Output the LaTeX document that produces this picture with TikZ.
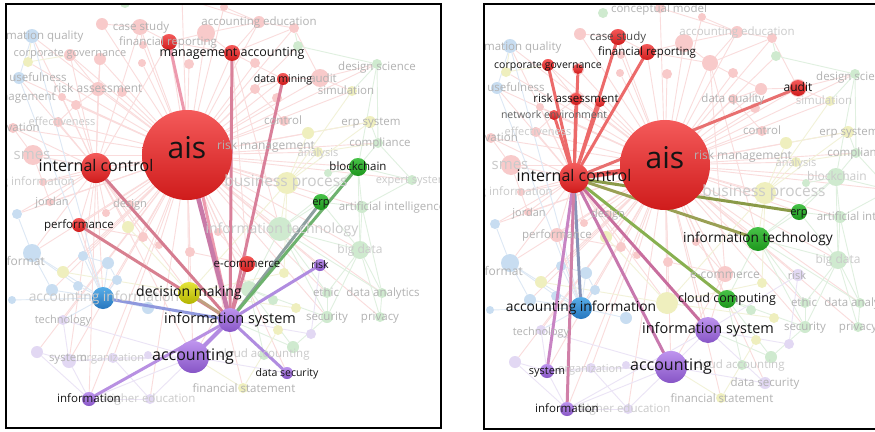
\documentclass[tikz,border=0pt]{standalone}
\usepackage{fontspec}
\setmainfont{Open Sans}
\newcommand\fsz[1]{\fontsize{#1}{#1}\selectfont}
\newcommand\hx[1]{\definecolor{x#1}{HTML}{#1}}
\hx{ED9AAE}\hx{D9809A}\hx{D57C90}\hx{D88090}\hx{C0A080}\hx{8F98DD}\hx{8EA0A0}
\hx{6EB26E}\hx{B08CE0}\hx{B890E2}\hx{B38BE2}\hx{C87AA8}\hx{EC6A6A}\hx{E87070}
\hx{8A9A48}\hx{9AA055}\hx{88B050}\hx{C86E9E}\hx{C878AE}\hx{8894B8}\hx{C884C4}
\hx{D080A8}\hx{E85858}
\definecolor{cfR}{HTML}{F8CACA}
\definecolor{cfG}{HTML}{CFEACF}
\definecolor{cfB}{HTML}{C8DDF1}
\definecolor{cfP}{HTML}{E2D8F3}
\definecolor{cfY}{HTML}{EFEFBE}
\definecolor{ceR}{HTML}{FADCDC}
\definecolor{ceG}{HTML}{E0F0E0}
\definecolor{ceB}{HTML}{DDE8F5}
\definecolor{ceP}{HTML}{EBE4F6}
\definecolor{ceY}{HTML}{F2F2D8}
\definecolor{chR1}{HTML}{F45A5A}
\definecolor{chR2}{HTML}{CF1B1B}
\definecolor{chG1}{HTML}{48C248}
\definecolor{chG2}{HTML}{1C961C}
\definecolor{chB1}{HTML}{58ADE8}
\definecolor{chB2}{HTML}{2676BE}
\definecolor{chP1}{HTML}{BE94EE}
\definecolor{chP2}{HTML}{8755C6}
\definecolor{chY1}{HTML}{E4E43A}
\definecolor{chY2}{HTML}{B4B400}
\definecolor{cflab}{HTML}{B2B2B2}
\definecolor{cflab2}{HTML}{CACACA}
\tikzset{
  inv/.style={circle,inner sep=0pt,draw=none},
  fR/.style={fill=cfR}, fG/.style={fill=cfG}, fB/.style={fill=cfB},
  fP/.style={fill=cfP}, fY/.style={fill=cfY},
  eR/.style={draw=ceR,line width=0.9pt}, eG/.style={draw=ceG,line width=0.9pt},
  eB/.style={draw=ceB,line width=0.9pt}, eP/.style={draw=ceP,line width=0.9pt},
  eY/.style={draw=ceY,line width=0.9pt},
  hR/.style={top color=chR1,bottom color=chR2},
  hG/.style={top color=chG1,bottom color=chG2},
  hB/.style={top color=chB1,bottom color=chB2},
  hP/.style={top color=chP1,bottom color=chP2},
  hY/.style={top color=chY1,bottom color=chY2},
  hE/.style={line width=3pt,line cap=round},
  flab/.style={text=cflab,inner sep=0pt,text height=1.5ex,text depth=.25ex},
  flab2/.style={flab,text=cflab2},
  hlab/.style={text=black!92,inner sep=0pt,text height=1.5ex,text depth=.25ex},
  frame/.style={draw=black,line width=2pt},
}
\newcount\flc
\newcommand\FL[4][]{\global\advance\flc by 1 \node[flab,font=\fsz{#3},#1] (fl\the\flc) at (#2) {#4};}
\newcommand\HL[4][]{\node[hlab,font=\fsz{#3},#1] (hl-#2) at (#2) {#4};}
\newcommand\HN[3]{\path[h#3] (#1) circle[radius=#2pt];}
\newcommand\allnodes{%
\VN{ais}{187}{155}{45}{R}\VN{ic}{96}{168}{15}{R}\VN{ma}{232}{53}{8}{R}
\VN{fr}{169}{42}{8}{R}\VN{dm}{283}{79}{6}{R}\VN{perf}{79}{225}{7}{R}
\VN{ec}{247}{264}{8}{R}\VN{cs}{140}{27}{8}{R}\VN{cg}{70}{55}{6}{R}
\VN{xa}{100}{59}{6}{R}\VN{ra}{98}{89}{7}{R}\VN{xb}{122}{92}{5}{R}
\VN{ne}{76}{105}{5}{R}\VN{au}{320}{78}{9}{R}\VN{jor}{50}{202}{4}{R}
\VN{smes}{33}{155}{10}{R}\VN{inno}{13}{128}{5}{R}\VN{eff}{58}{122}{5}{R}
\VN{mg}{62}{97}{4}{R}\VN{ae}{259}{22}{6}{R}\VN{cmod}{182}{-2}{5}{R}
\VN{des}{130}{204}{4}{R}\VN{dq}{255}{89}{5}{R}\VN{ctrl}{284}{121}{5}{R}
\VN{r1}{102}{24}{6}{R}\VN{r2}{206}{33}{9}{R}\VN{r3}{143}{45}{4}{R}
\VN{r4}{142}{63}{4}{R}\VN{r5}{189}{64}{5}{R}\VN{r6}{294}{28}{5}{R}
\VN{r7}{255}{63}{5}{R}\VN{r8}{277}{98}{5}{R}\VN{r9}{224}{7}{4}{R}
\VN{r10}{106}{213}{4}{R}\VN{r11}{43}{182}{4}{R}\VN{r12}{143}{237}{5}{R}
\VN{r13}{190}{252}{5}{R}\VN{r14}{218}{232}{4}{R}\VN{r15}{159}{245}{4}{R}
\VN{dmk}{189}{293}{11}{Y}\VN{bp}{287}{183}{11}{Y}\VN{erps}{370}{122}{6}{Y}
\VN{sim}{352}{91}{5}{Y}\VN{y1}{308}{133}{6}{Y}\VN{ana}{318}{152}{5}{Y}
\VN{fs}{243}{388}{5}{Y}\VN{y2}{28}{62}{5}{Y}\VN{y3}{63}{272}{6}{Y}
\VN{y4}{128}{227}{6}{Y}\VN{y5}{296}{308}{5}{Y}\VN{y6}{284}{273}{5}{Y}
\VN{y7}{278}{330}{5}{Y}
\VN{bc}{358}{167}{9}{G}\VN{erp}{321}{202}{8}{G}\VN{it}{280}{229}{12}{G}
\VN{cc}{249}{289}{8}{G}\VN{ds}{377}{64}{5}{G}\VN{comp}{378}{143}{5}{G}
\VN{ai}{362}{207}{6}{G}\VN{bd}{360}{250}{9}{G}\VN{eth}{327}{293}{5}{G}
\VN{da}{382}{293}{5}{G}\VN{sec}{327}{317}{6}{G}\VN{priv}{380}{317}{5}{G}
\VN{ca}{264}{355}{5}{G}\VN{g1}{293}{347}{6}{G}\VN{exs}{412}{180}{5}{G}
\VN{g2}{298}{46}{5}{G}\VN{g3}{125}{3}{5}{G}\VN{g4}{273}{300}{5}{G}
\VN{g5}{328}{173}{4}{G}
\VN{ab}{103}{298}{11}{B}\VN{iq}{32}{36}{7}{B}\VN{use}{19}{78}{6}{B}
\VN{fmt}{32}{253}{9}{B}\VN{b1}{83}{256}{5}{B}\VN{b2}{108}{263}{6}{B}
\VN{b3}{117}{280}{5}{B}\VN{b4}{78}{286}{5}{B}\VN{b5}{52}{290}{6}{B}
\VN{b6}{148}{308}{6}{B}\VN{b7}{17}{214}{5}{B}\VN{b8}{12}{300}{4}{B}
\VN{is}{230}{320}{12}{P}\VN{acc}{193}{357}{16}{P}\VN{risk}{320}{265}{6}{P}
\VN{dsec}{287}{373}{6}{P}\VN{info}{89}{399}{7}{P}\VN{sys}{69}{361}{7}{P}
\VN{tech}{63}{320}{5}{P}\VN{org}{113}{358}{5}{P}\VN{he}{150}{399}{5}{P}
\VN{p1}{37}{352}{6}{P}\VN{p2}{148}{355}{4}{P}\VN{p3}{311}{334}{5}{P}
}
\newcommand\declnodes{\def\VN##1##2##3##4##5{\node[inv,minimum size={2*##4pt}] (##1) at (##2,##3) {};}\allnodes}
\newcommand\drawnodes{\def\VN##1##2##3##4##5{\fill[f##5] (##1) circle[radius=##4pt];}\allnodes}
\newcommand\faintedges{%
\foreach \nn in {ic,ma,fr,dm,perf,ec,cs,cg,xa,ra,xb,ne,au,jor,smes,inno,eff,mg,ae,cmod,des,dq,ctrl,r1,r2,r3,r4,r5,r6,r7,r8,r9,r10,r11,r12,r13,r14,r15,bp,dmk,erps,sim,y1,ana,it,erp,bc,comp,ds,ai,bd,cc,exs,g2,acc,is,ab,fmt,iq,use,b1,b5,tech,sys,info,fs,y3,y4,he,org,p1,risk,dsec,eth,da,sec,priv,y2,b7}{\draw[eR] (ais) -- (\nn);}
\foreach \nn in {perf,jor,smes,inno,ra,cg,xa,ne,eff,des,dmk,ab,mg,r11,r10,y4,b7,fmt,acc,is,info,sys,cs,fr,r12,iq,use}{\draw[eR] (ic) -- (\nn);}
\foreach \ua/\ub in {ma/dm,ma/fr,ma/ae,ma/r2,ma/r6,ma/ec,ma/it,cs/r1,cs/r3,cs/fr,fr/r2,r2/ae,ae/r6,ae/cmod,r9/ae,cg/ra,ra/ne,xa/ra,ne/eff,smes/inno,smes/jor,ec/is,ec/acc,dm/dq,dq/ctrl,au/dm,au/r6,au/ds,au/sim,perf/r12,perf/ab,r13/ec,r14/ec}{\draw[eR] (\ua) -- (\ub);}
\foreach \ua/\ub in {bc/erp,bc/comp,bc/exs,bc/ai,bc/bd,bc/ds,bc/g5,bc/it,erp/ai,erp/it,erp/bd,it/bd,it/cc,it/eth,it/sec,it/da,bd/da,bd/eth,bd/priv,bd/sec,bd/ai,da/priv,eth/sec,comp/ds,comp/erps,ds/sim,ai/exs,cc/sec,cc/g4,cc/ca,cc/g1,g1/sec,g1/is,g2/ds,g2/r6,comp/exs,ai/da}{\draw[eG] (\ua) -- (\ub);}
\foreach \ua/\ub in {bp/erps,bp/sim,bp/y1,bp/ana,bp/dmk,bp/y6,bp/it,dmk/y6,dmk/y5,dmk/y4,dmk/y3,fs/acc,fs/y7,y2/iq,y2/cg,y1/erps,ana/comp}{\draw[eY] (\ua) -- (\ub);}
\foreach \ua/\ub in {ab/fmt,ab/b1,ab/b2,ab/b3,ab/b4,ab/b5,ab/b6,ab/b8,ab/iq,ab/use,ab/tech,fmt/b7,fmt/b4,fmt/b5,iq/use,b1/b2,b2/b3}{\draw[eB] (\ua) -- (\ub);}
\foreach \ua/\ub in {is/acc,is/risk,is/dsec,is/p3,is/info,acc/info,acc/sys,acc/org,acc/dsec,acc/he,acc/tech,acc/p2,sys/org,sys/p1,sys/tech,sys/info,org/he,info/he,info/p1,risk/p3}{\draw[eP] (\ua) -- (\ub);}
}
\begin{document}
\begin{tikzpicture}[x=1pt,y=-1pt]
\useasboundingbox (0,0) rectangle (875,431);
\fill[white] (0,0) rectangle (875,431);
% ================= LEFT PANEL =================
\begin{scope}
\clip (6,4) rectangle (441,428);
\declnodes\faintedges\drawnodes
% highlighted links of "information system"
\draw[hE,draw=xED9AAE] (is) -- (fr);
\draw[hE,draw=xD9809A] (is) -- (ma);
\draw[hE,draw=xD9809A] (is) -- (dm);
\draw[hE,draw=xD9809A] (is) -- (ec);
\draw[hE,draw=xD57C90] (is) -- (ic);
\draw[hE,draw=xD88090] (is) -- (perf);
\draw[hE,draw=xC0A080] (is) -- (dmk);
\draw[hE,draw=x8F98DD] (is) -- (ab);
\draw[hE,draw=x8EA0A0] (is) -- (erp);
\draw[hE,draw=x6EB26E] (is) -- (bc);
\draw[hE,draw=xB08CE0] (is) -- (risk);
\draw[hE,draw=xB08CE0] (is) -- (dsec);
\draw[hE,draw=xB890E2] (is) -- (info);
\draw[hE,draw=xB38BE2,line width=4pt] (is) -- (acc);
\draw[hE,draw=xC87AA8,line width=4.5pt] (is) -- (ais);
% highlighted nodes
\HN{ais}{45}{R}\HN{ic}{15}{R}\HN{ma}{8}{R}\HN{fr}{8}{R}\HN{dm}{6}{R}
\HN{perf}{7}{R}\HN{ec}{8}{R}\HN{dmk}{11}{Y}\HN{ab}{11}{B}\HN{is}{12}{P}
\HN{acc}{16}{P}\HN{info}{7}{P}\HN{dsec}{6}{P}\HN{risk}{6}{P}
\HN{erp}{8}{G}\HN{bc}{9}{G}
% faint labels
\FL{32,36}{11.5}{information quality}
\FL{141,27}{11.5}{case study}
\FL{168,42}{11.5}{financial reporting}
\FL{259,22}{11.5}{accounting education}
\FL{70,53}{11}{corporate governance}
\FL{38,78}{11.5}{usefulness}
\FL{98,89}{12}{risk assessment}
\FL[anchor=east]{56,97}{11.5}{management}
\FL[flab2]{62,122}{11}{effectiveness}
\FL[anchor=east]{40,128}{11.5}{innovation}
\FL[flab2]{32,156}{15}{smes}
\FL[flab2,anchor=east]{75,182}{11.5}{using information}
\FL{52,202}{11}{jordan}
\FL{130,204}{11}{design}
\FL{377,67}{11.5}{design science}
\FL{346,91}{11.5}{simulation}
\FL{323,79}{11.5}{audit}
\FL{283,121}{11.5}{control}
\FL{371,122}{11.5}{erp system}
\FL{380,143}{11.5}{compliance}
\FL{266,146}{12}{risk management}
\FL[flab2]{318,153}{11}{analysis}
\FL[flab2]{286,183}{15.5}{business process}
\FL[flab2]{412,180}{11}{expert system}
\FL{392,207}{11.5}{artificial intelligence}
\FL[flab2]{282,230}{14}{information technology}
\FL[flab2]{360,250}{12}{big data}
\FL{326,293}{11.5}{ethic}
\FL{383,293}{11.5}{data analytics}
\FL{327,317}{11.5}{security}
\FL{380,317}{11.5}{privacy}
\FL[flab2]{264,354}{11.5}{cloud accounting}
\FL{244,389}{11.5}{financial statement}
\FL[flab2]{150,399}{11.5}{higher education}
\FL[flab2]{112,358}{11}{organization}
\FL{68,358}{11.5}{system}
\FL{63,320}{11}{technology}
\FL[anchor=east]{45,262}{12}{format}
\FL[flab2]{104,298}{13.8}{accounting information}
% highlighted labels
\HL{ais}{30}{ais}
\HL{ic}{16}{internal control}
\HL{ma}{12.5}{management accounting}
\HL{dm}{10.5}{data mining}
\HL{perf}{11.5}{performance}
\HL{dmk}{14}{decision making}
\HL{is}{14.5}{information system}
\HL{acc}{16}{accounting}
\HL{ec}{11.5}{e-commerce}
\HL{risk}{10.5}{risk}
\HL{dsec}{10.5}{data security}
\HL{info}{11.5}{information}
\HL{bc}{11.5}{blockchain}
\HL{erp}{11}{erp}
\end{scope}
\draw[frame] (6,4) rectangle (441,428);
% ================= RIGHT PANEL =================
\begin{scope}[shift={(478,10)}]
\clip (6,-6) rectangle (400,419);
\declnodes\faintedges\drawnodes
% highlighted links of "internal control"
\draw[hE,draw=xEC6A6A] (ic) -- (cs);
\draw[hE,draw=xEC6A6A] (ic) -- (fr);
\draw[hE,draw=xEC6A6A] (ic) -- (cg);
\draw[hE,draw=xEC6A6A] (ic) -- (xa);
\draw[hE,draw=xEC6A6A] (ic) -- (ra);
\draw[hE,draw=xEC6A6A] (ic) -- (xb);
\draw[hE,draw=xEC6A6A] (ic) -- (ne);
\draw[hE,draw=xE87070] (ic) -- (au);
\draw[hE,draw=x8A9A48] (ic) -- (erp);
\draw[hE,draw=x9AA055] (ic) -- (it);
\draw[hE,draw=x88B050] (ic) -- (cc);
\draw[hE,draw=xC86E9E] (ic) -- (is);
\draw[hE,draw=xC878AE] (ic) -- (acc);
\draw[hE,draw=x8894B8] (ic) -- (ab);
\draw[hE,draw=xC884C4] (ic) -- (sys);
\draw[hE,draw=xD080A8] (ic) -- (info);
\draw[hE,draw=xE85858,line width=5pt] (ic) -- (ais);
% highlighted nodes
\HN{ais}{45}{R}\HN{ic}{15}{R}\HN{cs}{8}{R}\HN{fr}{8}{R}\HN{cg}{6}{R}
\HN{xa}{5}{R}\HN{ra}{6}{R}\HN{xb}{5}{R}\HN{ne}{5}{R}\HN{au}{8}{R}
\HN{erp}{8}{G}\HN{it}{12}{G}\HN{cc}{9}{G}\HN{is}{13}{P}\HN{acc}{16}{P}
\HN{ab}{11}{B}\HN{sys}{7}{P}\HN{info}{7}{P}
% faint labels
\FL{181,-1}{11.5}{conceptual model}
\FL{32,37}{11.5}{information quality}
\FL{38,78}{11.5}{usefulness}
\FL[anchor=east]{40,128}{11.5}{innovation}
\FL[flab2]{60,122}{11}{effectiveness}
\FL[flab2]{32,156}{15}{smes}
\FL[flab2,anchor=east]{75,182}{11.5}{using information}
\FL{51,203}{11}{jordan}
\FL{130,204}{11}{design}
\FL{79,225}{11.5}{performance}
\FL[anchor=east]{45,262}{12}{format}
\FL{63,322}{11}{technology}
\FL[flab2]{112,359}{11}{organization}
\FL[flab2]{147,399}{11.5}{higher education}
\FL{244,389}{11.5}{financial statement}
\FL{287,373}{11.5}{data security}
\FL[flab2]{261,355}{11.5}{cloud accounting}
\FL{327,317}{11.5}{security}
\FL{380,317}{11.5}{privacy}
\FL{326,293}{11.5}{ethic}
\FL{383,293}{11.5}{data analytics}
\FL{247,265}{12}{e-commerce}
\FL{319,266}{11}{risk}
\FL[flab2]{360,250}{12}{big data}
\FL{392,207}{11.5}{artificial intelligence}
\FL[flab2]{286,183}{15.5}{business process}
\FL[flab2]{359,167}{12}{blockchain}
\FL[flab2]{318,153}{11}{analysis}
\FL{265,146}{12}{risk management}
\FL{380,143}{11.5}{compliance}
\FL{371,122}{11.5}{erp system}
\FL{284,121}{11.5}{control}
\FL[flab2]{346,91}{11.5}{simulation}
\FL{255,89}{11.5}{data quality}
\FL{377,67}{11.5}{design science}
\FL[flab2]{259,22}{11.5}{accounting education}
% highlighted labels
\HL{ais}{30}{ais}
\HL{ic}{16}{internal control}
\HL[text=black!70]{cs}{11.5}{case study}
\HL{fr}{11.5}{financial reporting}
\HL{cg}{10.5}{corporate governance}
\HL{ra}{11.5}{risk assessment}
\HL[text=black!62]{ne}{10.5}{network environment}
\HL{au}{12}{audit}
\HL{erp}{11}{erp}
\HL{it}{13.7}{information technology}
\HL{cc}{12.5}{cloud computing}
\HL{is}{14.5}{information system}
\HL{acc}{16}{accounting}
\HL{ab}{13.8}{accounting information}
\HL{sys}{11}{system}
\HL{info}{11.5}{information}
\end{scope}
\draw[frame] (484,4) rectangle (877,429);
\end{tikzpicture}
\end{document}
